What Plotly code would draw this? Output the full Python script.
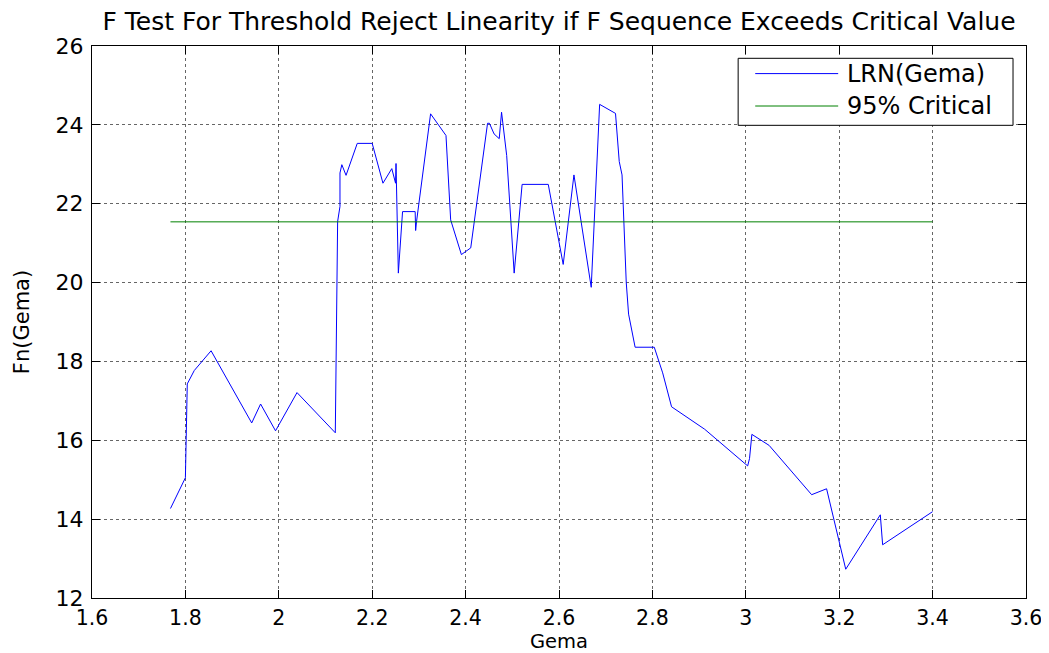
import plotly.graph_objects as go

# ---- data ----
gema = [1.768, 1.800, 1.804, 1.819, 1.855, 1.942, 1.961, 1.993, 2.039, 2.121,
        2.126, 2.131, 2.131, 2.135, 2.144, 2.168, 2.200, 2.223, 2.242, 2.250,
        2.251, 2.252, 2.256, 2.265, 2.292, 2.293, 2.295, 2.325, 2.358, 2.368,
        2.391, 2.411, 2.447, 2.451, 2.461, 2.472, 2.477, 2.488, 2.504, 2.521,
        2.577, 2.609, 2.632, 2.669, 2.687, 2.721, 2.729, 2.735, 2.744, 2.749,
        2.763, 2.804, 2.822, 2.841, 2.912, 3.004, 3.008, 3.013, 3.050, 3.141,
        3.173, 3.214, 3.288, 3.293, 3.400]
lrn = [14.27, 15.05, 17.43, 17.77, 18.27, 16.44, 16.92, 16.24, 17.21, 16.19,
       21.55, 21.93, 22.78, 22.99, 22.72, 23.53, 23.53, 22.52, 22.89, 22.52,
       23.02, 22.48, 20.24, 21.80, 21.80, 21.32, 21.55, 24.28, 23.73, 21.59,
       20.71, 20.88, 24.04, 24.04, 23.77, 23.65, 24.32, 23.22, 20.24, 22.49,
       22.49, 20.46, 22.73, 19.88, 24.52, 24.29, 23.07, 22.73, 20.00, 19.20,
       18.36, 18.36, 17.71, 16.85, 16.28, 15.35, 15.54, 16.15, 15.87, 14.62,
       14.77, 12.73, 14.11, 13.35, 14.19]
crit_x = [1.768, 3.400]
crit_y = [21.54, 21.54]

series_names = ["LRN(Gema)", "95% Critical"]
series_colors = ["#0000ff", "#008000"]

title_text = "F Test For Threshold Reject Linearity if F Sequence Exceeds Critical Value"
x_label = "Gema"
y_label = "Fn(Gema)"

FONT = "DejaVu Sans"
W, H = 1041, 645  # page body has an 8px default margin

fig = go.Figure()
fig.add_trace(go.Scatter(x=gema, y=lrn, mode="lines", name=series_names[0],
                         line=dict(color=series_colors[0], width=1), showlegend=False))
fig.add_trace(go.Scatter(x=crit_x, y=crit_y, mode="lines", name=series_names[1],
                         line=dict(color=series_colors[1], width=1), showlegend=False))

axis_common = dict(
    showgrid=True, gridcolor="rgba(0,0,0,0.6)", griddash="dot", gridwidth=1,
    ticks="inside", ticklen=8, tickcolor="black", tickwidth=1,
    showline=True, linecolor="black", linewidth=1, mirror="allticks",
    zeroline=False,
)

fig.update_xaxes(range=[1.6, 3.6], tick0=1.6, dtick=0.2,
                 tickfont=dict(family=FONT, size=20.5, color="black"),
                 title=dict(text=x_label, font=dict(family=FONT, size=19.5, color="black"), standoff=13),
                 ticklabelstandoff=1, **axis_common)
fig.update_yaxes(range=[12, 26], tick0=12, dtick=2,
                 tickfont=dict(family=FONT, size=22, color="black"),
                 title=dict(text=y_label, font=dict(family=FONT, size=21, color="black"), standoff=20),
                 ticklabelstandoff=3, **axis_common)

# manual MATLAB-style legend box (paper coordinates)
lx0, lx1, ly0, ly1 = 0.6918, 0.9861, 0.8563, 0.9777
fig.add_shape(type="rect", xref="paper", yref="paper", x0=lx0, x1=lx1, y0=ly0, y1=ly1,
              line=dict(color="black", width=1), fillcolor="white", layer="above")
rows_y = [0.950, 0.8913]
for name, col, ry in zip(series_names, series_colors, rows_y):
    fig.add_shape(type="line", xref="paper", yref="paper", x0=0.7101, x1=0.7989, y0=ry, y1=ry,
                  line=dict(color=col, width=1), layer="above")
    fig.add_annotation(xref="paper", yref="paper", x=0.8062, y=ry, text=name, showarrow=False,
                       xanchor="left", yanchor="middle",
                       font=dict(family=FONT, size=24, color="black"))

fig.update_layout(
    width=W, height=H,
    margin=dict(l=83.5, r=23, t=37.7, b=55.3, autoexpand=False),
    paper_bgcolor="white", plot_bgcolor="white",
    title=dict(text=title_text, x=0.5, xref="paper", xanchor="center",
               y=1 - 13 / H, yref="container", yanchor="middle",
               font=dict(family=FONT, size=25, color="black")),
    showlegend=False,
)

fig.write_html("out.html")
